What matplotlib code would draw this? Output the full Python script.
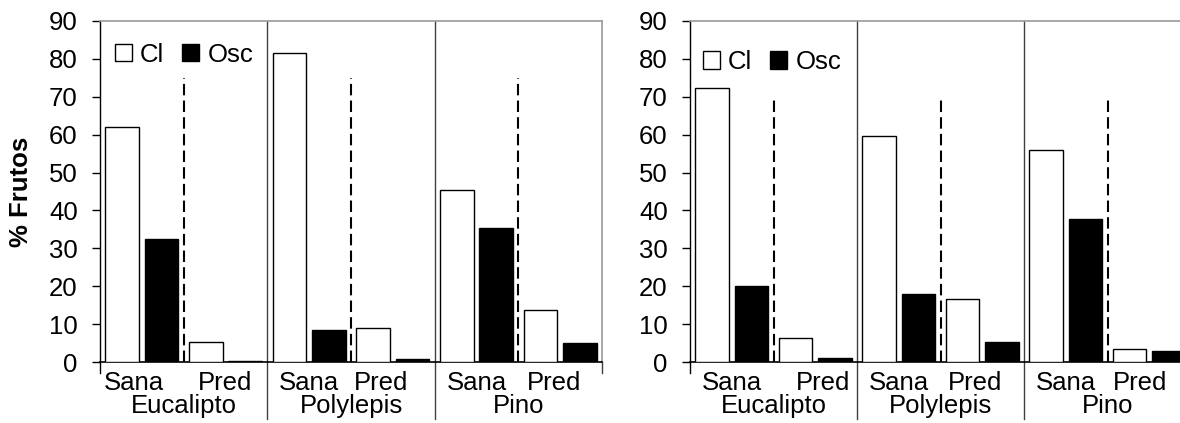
import numpy as np
import matplotlib
matplotlib.use("Agg")
import matplotlib.pyplot as plt
from matplotlib.patches import Patch
import matplotlib.transforms as mtransforms

plt.rcParams['font.family'] = ['Liberation Sans', 'DejaVu Sans']

# datos
grupos = ['Eucalipto', 'Polylepis', 'Pino']
estados = ['Sana', 'Pred']

izq_cl = [62.0, 5.4, 81.6, 9.0, 45.4, 13.9]
izq_osc = [32.6, 0.4, 8.6, 0.8, 35.4, 5.1]

der_cl = [72.3, 6.4, 59.6, 16.8, 56.0, 3.5]
der_osc = [20.1, 1.1, 18.0, 5.4, 37.8, 2.9]

yticks = list(range(0, 100, 10))

FS = 18.5


def panel(ax, cl, osc, dash_top, leg_xy, lab_shift, ylabel=None):
    x = np.arange(len(cl)) + 0.5
    w = 0.40
    ax.bar(x - 0.235, cl, w, color='white', edgecolor='black', linewidth=1.0, zorder=3)
    ax.bar(x + 0.235, osc, w, color='black', edgecolor='black', linewidth=1.0, zorder=3)

    ax.set_xlim(0, 6)
    ax.set_ylim(0, 90)
    ax.set_yticks(yticks)
    ax.tick_params(axis='y', direction='out', length=6, width=1, labelsize=FS, pad=10)
    ax.set_xticks([])

    for s in ['top', 'right']:
        ax.spines[s].set_color('#9a9a9a')
        ax.spines[s].set_linewidth(1.2)
    ax.spines['left'].set_linewidth(1.0)
    ax.spines['bottom'].set_linewidth(1.2)

    # lineas discontinuas entre Sana y Pred
    ax.vlines([1, 3, 5], 0, dash_top, colors='black', linewidth=1.5,
              linestyles=(0, (5.5, 2.5)), zorder=4)

    trans = mtransforms.blended_transform_factory(ax.transData, ax.transAxes)
    # separadores de grupos
    for gx in [2, 4]:
        ax.plot([gx, gx], [-0.165, 1.0], transform=trans, color='#404040',
                linewidth=1.0, clip_on=False, zorder=2)
    ax.plot([0, 0], [-0.03, 0], transform=trans, color='black', linewidth=1.0, clip_on=False)
    ax.plot([6, 6], [-0.03, 0], transform=trans, color='#404040', linewidth=1.0, clip_on=False)

    # etiquetas de categorias (Excel las desplaza un poco)
    for i in range(6):
        t = mtransforms.offset_copy(trans, fig=ax.figure, x=lab_shift[i], y=0, units='dots')
        ax.text(x[i], -0.025, estados[i % 2], transform=t, ha='center', va='top',
                fontsize=FS)
    for g, nombre in enumerate(grupos):
        ax.text(2 * g + 1, -0.094, nombre, transform=trans, ha='center', va='top',
                fontsize=FS)

    handles = [Patch(facecolor='white', edgecolor='black', linewidth=1.0, label='Cl'),
               Patch(facecolor='black', edgecolor='black', linewidth=1.0, label='Osc')]
    ax.legend(handles=handles, loc='upper left', bbox_to_anchor=leg_xy, ncol=2,
              frameon=False, fontsize=FS, handlelength=0.65, handleheight=0.65,
              handletextpad=0.33, columnspacing=0.7, borderpad=0, borderaxespad=0)

    if ylabel:
        ax.set_ylabel(ylabel, fontsize=FS, fontweight='bold')
        ax.yaxis.set_label_coords(-0.133, 0.5)


fig = plt.figure(figsize=(11.8, 4.23), dpi=100)
ax1 = fig.add_axes([100 / 1180, 60.7 / 423, 502 / 1180, 341.6 / 423])
ax2 = fig.add_axes([690 / 1180, 60.7 / 423, 501 / 1180, 341.6 / 423])

panel(ax1, izq_cl, izq_osc, 75, (0.030, 0.935), [-8, 0, 0, -12, 0, -6], ylabel='% Frutos')
panel(ax2, der_cl, der_osc, 70, (0.026, 0.914), [0, 8, 0, -7, 0, -9])

fig.savefig('out.png', dpi=100)
